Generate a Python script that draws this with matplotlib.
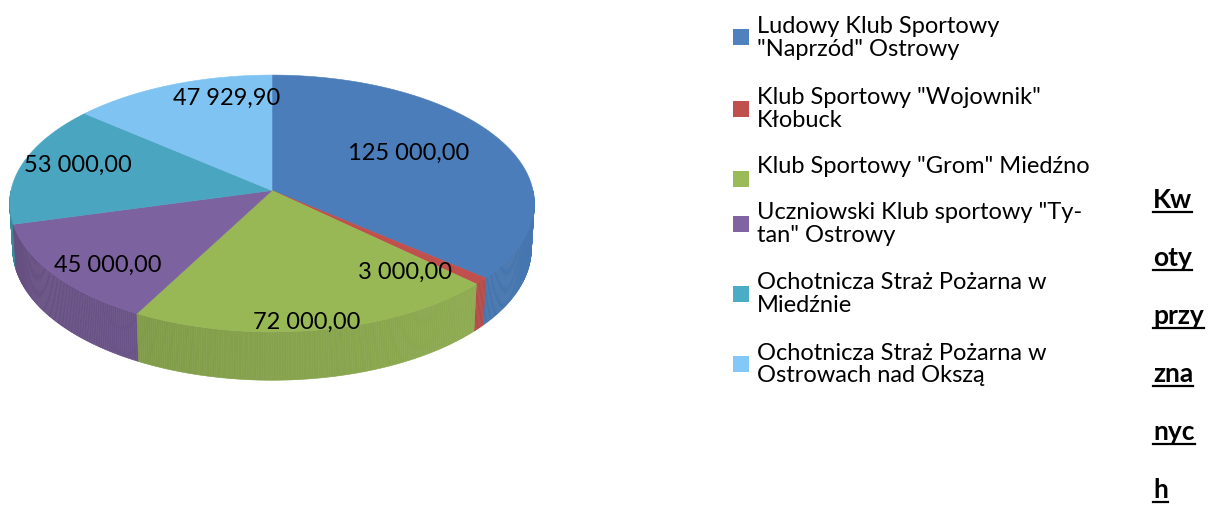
import numpy as np
import matplotlib
matplotlib.use("Agg")
import matplotlib.pyplot as plt
from matplotlib.patches import Polygon, Rectangle
from matplotlib.lines import Line2D
import matplotlib.colors as mcolors

# ---- data ----
categories = [
    'Ludowy Klub Sportowy\n"Naprzód" Ostrowy',
    'Klub Sportowy "Wojownik"\nKłobuck',
    'Klub Sportowy "Grom" Miedźno',
    'Uczniowski Klub sportowy "Ty-\ntan" Ostrowy',
    'Ochotnicza Straż Pożarna w\nMiedźnie',
    'Ochotnicza Straż Pożarna w\nOstrowach nad Okszą',
]
values = [125000.00, 3000.00, 72000.00, 45000.00, 53000.00, 47929.90]
value_labels = ["125 000,00", "3 000,00", "72 000,00", "45 000,00", "53 000,00", "47 929,90"]
title_fragments = ["Kw", "oty", "przy", "zna", "nyc", "h"]

# ---- style ----
colors = ["#4A7DBA", "#C0504D", "#98B856", "#7D62A0", "#4AA6C0", "#7FC3F2"]
swatch_colors = ["#4F81BD", "#C0504D", "#9BBB59", "#8064A2", "#4BACC6", "#83C8F8"]
label_r = [0.629, 0.755, 0.925, 0.800, 0.793, 0.830]
label_dang = [-6.1, 8.75, 1.77, -3.58, 3.95, 11.8]
FONT = "Lato"

# perspective camera parameters
cx, cy = 272.0, 191.5
s_e = 0.487
c_e = np.sqrt(1 - s_e**2)
Dcam = 8.64
fcam = 2255.0
H = 0.2


def proj(X, Y, Z):
    d = Dcam - (Y * c_e + Z * s_e)
    u = -Y * s_e + Z * c_e
    return cx + fcam * X / d, cy - fcam * u / d


def shade(col, k):
    r, g, b = mcolors.to_rgb(col)
    return (r * k, g * k, b * k)


fig = plt.figure(figsize=(12.12, 5.06), dpi=100)
ax = fig.add_axes([0, 0, 1, 1])
ax.set_xlim(0, 1212)
ax.set_ylim(506, 0)
ax.axis("off")

total = sum(values)
bounds = np.concatenate([[0], np.cumsum(values)]) / total * 360.0

# side walls
quads = []
for i in range(len(values)):
    a0, a1 = bounds[i], bounds[i + 1]
    n = max(2, int(np.ceil((a1 - a0) / 0.5)))
    th = np.radians(np.linspace(a0, a1, n + 1))
    for j in range(n):
        t1, t2 = th[j], th[j + 1]
        X1, Y1 = np.sin(t1), -np.cos(t1)
        X2, Y2 = np.sin(t2), -np.cos(t2)
        if (Y1 + Y2) / 2 < 0.0:
            continue
        pts = [proj(X1, Y1, 0), proj(X2, Y2, 0), proj(X2, Y2, -H), proj(X1, Y1, -H)]
        xm = (X1 + X2) / 2
        k = 0.88 + 0.07 * xm
        quads.append(((Y1 + Y2) / 2, pts, shade(colors[i], k)))
quads.sort(key=lambda q: q[0])
for _, pts, col in quads:
    ax.add_patch(Polygon(pts, closed=True, facecolor=col, edgecolor=col, linewidth=0.4))

# top surfaces
for i in range(len(values)):
    a0, a1 = bounds[i], bounds[i + 1]
    th = np.radians(np.linspace(a0, a1, max(3, int((a1 - a0) * 2))))
    pts = [proj(0, 0, 0)] + [proj(np.sin(t), -np.cos(t), 0) for t in th]
    ax.add_patch(Polygon(pts, closed=True, facecolor=colors[i], edgecolor=colors[i], linewidth=0.4))

# value labels (digit centre at projected point)
for i in range(len(values)):
    mid = np.radians((bounds[i] + bounds[i + 1]) / 2 + label_dang[i])
    r = label_r[i]
    px, py = proj(r * np.sin(mid), -r * np.cos(mid), 0)
    ax.text(px, py + 8.5, value_labels[i], ha="center", va="baseline", fontsize=17,
            family=FONT, color="black")

# legend
text_centers = [38, 109, 166, 224, 294, 364.5]
swatch_centers = [38, 110, 180, 225, 295, 365]
for i, lab in enumerate(categories):
    ax.add_patch(Rectangle((733, swatch_centers[i] - 8), 16, 16,
                           facecolor=swatch_colors[i], edgecolor="none"))
    ax.text(757, text_centers[i], lab, ha="left", va="center", fontsize=17,
            family=FONT, linespacing=1.11, color="black")

# broken vertical title fragments, bold & underlined
baselines = [208, 266, 324, 382, 440, 498]
txts = []
for frag, b in zip(title_fragments, baselines):
    t = ax.text(1153, b, frag, ha="left", va="baseline", fontsize=19,
                family=FONT, fontweight="bold", color="black")
    txts.append((t, b))

fig.canvas.draw()
renderer = fig.canvas.get_renderer()
inv = ax.transData.inverted()
for t, b in txts:
    bb = t.get_window_extent(renderer)
    (x0, _), (x1, _) = inv.transform([[bb.x0, bb.y0], [bb.x1, bb.y1]])
    ax.add_line(Line2D([x0, x1], [b + 5, b + 5], color="black", linewidth=1.6))

fig.savefig("out.png", dpi=100, facecolor="white")
